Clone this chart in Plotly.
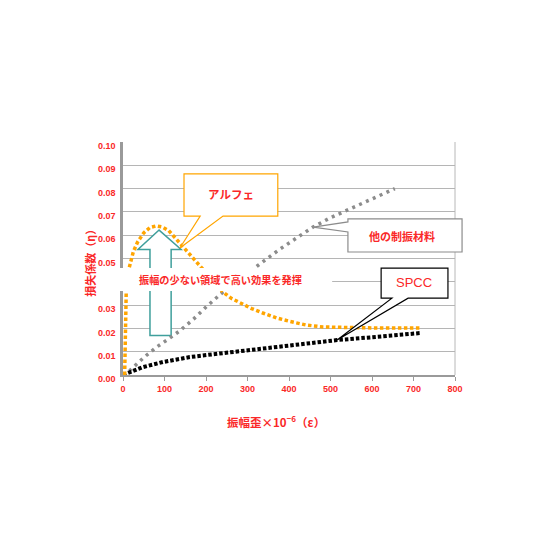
import plotly.graph_objects as go

# ---------------- data ----------------
strain_alfe = [4, 5, 6, 8, 12, 18, 25, 35, 50, 65, 80, 95, 110, 125, 145, 165, 185, 205,
               225, 241, 260, 282, 310, 337, 370, 402, 440, 482, 540, 600, 660, 720]
loss_alfe = [0.000, 0.012, 0.030, 0.038, 0.044, 0.048, 0.053, 0.057, 0.061, 0.0633, 0.064,
             0.0635, 0.062, 0.059, 0.055, 0.051, 0.047, 0.0428, 0.0388, 0.0356, 0.033,
             0.031, 0.0285, 0.0266, 0.0245, 0.023, 0.0215, 0.0206, 0.0203, 0.0202, 0.0202, 0.0202]

strain_other = [0, 17, 50, 81, 110, 137, 170, 202, 241, 280, 325, 378, 420, 458, 500, 540, 600, 655]
loss_other = [0.000, 0.002, 0.0075, 0.012, 0.0155, 0.019, 0.024, 0.0295, 0.0356, 0.041, 0.047,
              0.054, 0.059, 0.0635, 0.0675, 0.0708, 0.0755, 0.080]

strain_spcc = [0, 20, 48, 97, 161, 241, 320, 390, 460, 516, 600, 660, 716]
loss_spcc = [0.000, 0.0015, 0.0034, 0.0056, 0.0077, 0.0094, 0.0111, 0.0127, 0.014, 0.015,
             0.0162, 0.0171, 0.018]

x_ticks = [0, 100, 200, 300, 400, 500, 600, 700, 800]
y_ticks = [0.00, 0.01, 0.02, 0.03, 0.04, 0.05, 0.06, 0.07, 0.08, 0.09, 0.10]
y_ticktext = ["0.00", "0.01", "0.02", "0.03", "0.04", "0.05", "0.06", "0.07", "0.08", "0.09", "0.10"]

X_MAX = 800
Y_MAX = 0.10

RED = "#fa2828"
JP = "Noto Sans CJK JP"


def P(s, v):
    """data units -> paper units"""
    return s / X_MAX, v / Y_MAX


def path(points, ref_paper=True):
    pts = [P(s, v) if ref_paper else (s, v) for s, v in points]
    return "M " + " L ".join(f"{x:.5f},{y:.5f}" for x, y in pts) + " Z"


fig = go.Figure()
fig.add_trace(go.Scatter(x=strain_other, y=loss_other, mode="lines", name="他の制振材料",
                         line=dict(color="#8c8c8c", width=3.5, dash="3px,4.5px")))
fig.add_trace(go.Scatter(x=strain_spcc, y=loss_spcc, mode="lines", name="SPCC",
                         line=dict(color="#000000", width=4, dash="3.5px,2px")))
fig.add_trace(go.Scatter(x=strain_alfe, y=loss_alfe, mode="lines", name="アルフェ",
                         line=dict(color="#ffa500", width=3.5, dash="3.5px,2.5px")))

shapes = []
# right border of the plot area
shapes.append(dict(type="line", xref="paper", yref="paper", x0=1, x1=1, y0=0, y1=1,
                   line=dict(color="#b8b8b8", width=1), layer="below"))
# block arrow (data coords, between grid and traces)
arrow = [(87, 0.0622), (140, 0.0539), (116, 0.0539), (116, 0.017), (65, 0.017),
         (65, 0.0539), (36, 0.0539)]
shapes.append(dict(type="path", xref="x", yref="y", path=path(arrow, ref_paper=False),
                   fillcolor="white", line=dict(color="#3f9f9c", width=1.5), layer="between"))
# callout アルフェ
alfe_box = [(147, 0.0863), (373, 0.0863), (373, 0.0682), (241, 0.0682), (137, 0.0545),
            (186, 0.0682), (147, 0.0682)]
shapes.append(dict(type="path", xref="paper", yref="paper", path=path(alfe_box),
                   fillcolor="white", line=dict(color="#ffa500", width=1.2), layer="above"))
# callout 他の制振材料
other_box = [(542, 0.0670), (817, 0.0670), (817, 0.0528), (542, 0.0528), (542, 0.0614),
             (458, 0.0635), (542, 0.0657)]
shapes.append(dict(type="path", xref="paper", yref="paper", path=path(other_box),
                   fillcolor="white", line=dict(color="#8c8c8c", width=1.2), layer="above"))
# callout SPCC
spcc_box = [(622, 0.0459), (783, 0.0459), (783, 0.0330), (687, 0.0330), (516, 0.0150),
            (648, 0.0330), (622, 0.0330)]
shapes.append(dict(type="path", xref="paper", yref="paper", path=path(spcc_box),
                   fillcolor="white", line=dict(color="#000000", width=1.2), layer="above"))
# white band with message
bx0, by0 = P(-67, 0.0360)
bx1, by1 = P(504, 0.0459)
shapes.append(dict(type="rect", xref="paper", yref="paper", x0=bx0, x1=bx1, y0=by0, y1=by1,
                   fillcolor="white", line=dict(width=0), layer="above"))

annotations = []


def note(text, s, v, size, color=RED, family=JP, weight="bold", angle=0):
    x, y = P(s, v)
    annotations.append(dict(text=text, xref="paper", yref="paper", x=x, y=y,
                            showarrow=False, textangle=angle, xanchor="center", yanchor="middle",
                            font=dict(family=family, size=size, color=color, weight=weight)))


note("アルフェ", 260, 0.0775, 11.5)
note("他の制振材料", 673, 0.0597, 11)
note("SPCC", 702, 0.0398, 13, family="Liberation Sans", weight="normal")
note("振幅の少ない領域で高い効果を発揮", 234, 0.0409, 10.2)
note("損失係数（η）", -80, 0.0494, 11, angle=-90)
note("振幅歪×10<sup>−6</sup>（ε）", 368, -0.0200, 11.5)

fig.update_layout(
    width=560, height=560,
    margin=dict(l=123, r=105, t=142, b=185),
    paper_bgcolor="white", plot_bgcolor="white",
    showlegend=False,
    shapes=shapes, annotations=annotations,
    xaxis=dict(range=[0, X_MAX], tickvals=x_ticks, ticktext=[str(t) for t in x_ticks],
               showgrid=False, zeroline=False, showline=True, linecolor="#9a9a9a", linewidth=1.5,
               ticks="outside", ticklen=4, tickcolor="#9a9a9a",
               tickfont=dict(family="Liberation Sans", size=9, color=RED, weight="bold")),
    yaxis=dict(range=[0, Y_MAX], tickvals=y_ticks, ticktext=y_ticktext,
               showgrid=True, gridcolor="#b5b5b5", gridwidth=1, zeroline=False,
               showline=True, linecolor="#9a9a9a", linewidth=2.5, ticks="",
               ticklabelshift=4, ticklabelstandoff=3,
               tickfont=dict(family="Liberation Sans", size=9, color=RED, weight="bold")),
)

fig.write_html("out.html")
